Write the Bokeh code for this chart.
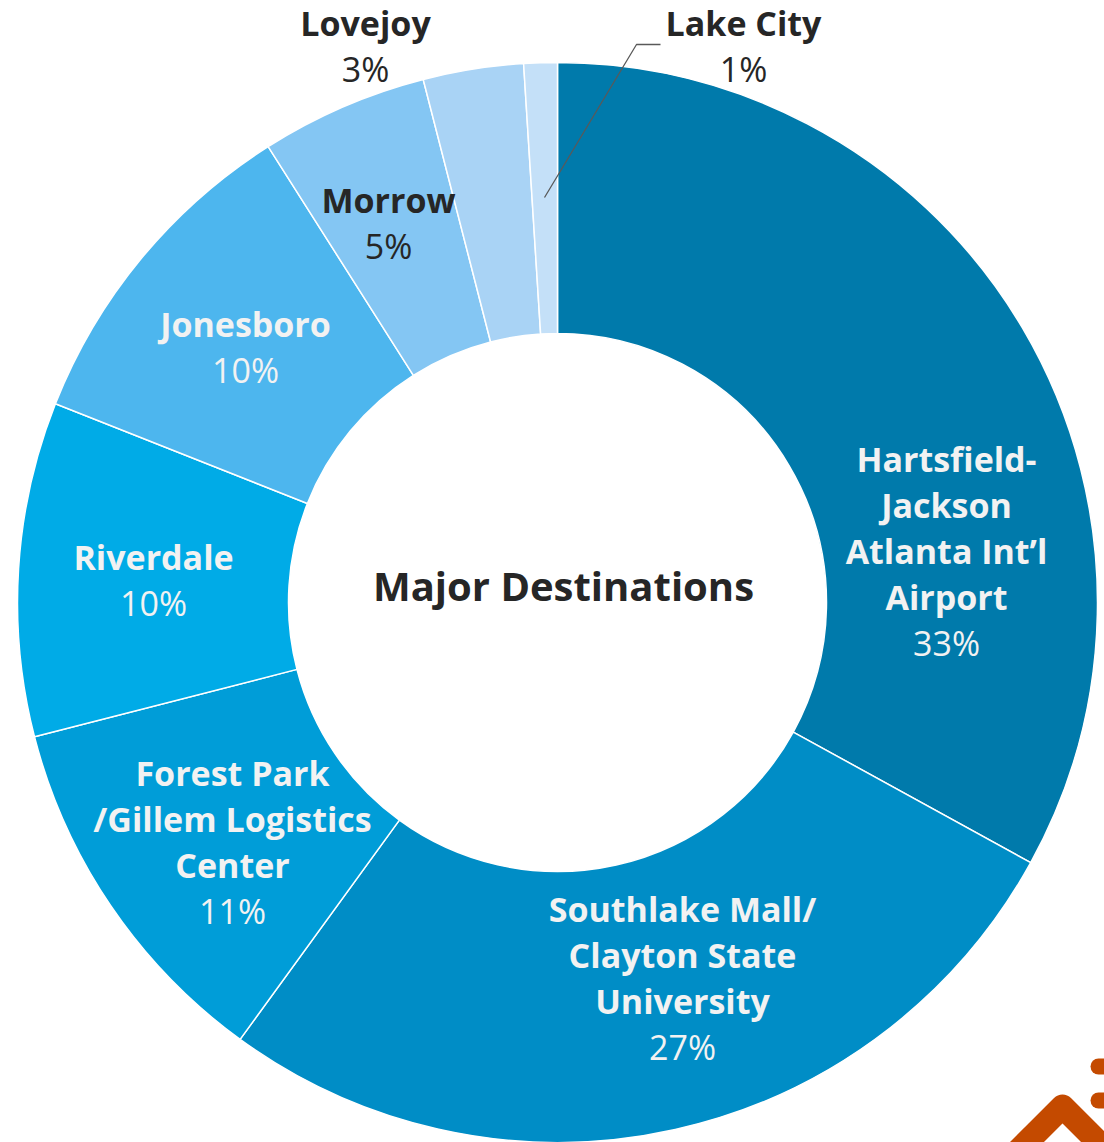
import math
from bokeh.plotting import figure
from bokeh.models import ColumnDataSource, Range1d
from bokeh.core.properties import value
from bokeh.embed import file_html
from bokeh.resources import INLINE

# ---- data ----
destinations = [
    "Hartsfield-\nJackson\nAtlanta Int’l\nAirport",
    "Southlake Mall/\nClayton State\nUniversity",
    "Forest Park\n/Gillem Logistics\nCenter",
    "Riverdale",
    "Jonesboro",
    "Morrow",
    "Lovejoy",
    "Lake City",
]
shares = [33, 27, 11, 10, 10, 5, 3, 1]
slice_colors = ["#007AAB", "#008DC6", "#009DD8", "#00ABE7",
                "#4DB6EE", "#84C6F3", "#A9D3F5", "#C4E0F8"]
label_colors = ["#F2F2F2", "#F2F2F2", "#F2F2F2", "#F2F2F2",
                "#F2F2F2", "#262626", "#262626", "#262626"]
center_title = "Major Destinations"

# ---- layout (screen pixel coordinates; y measured down) ----
W, H = 1104, 1142
OFF = 0
CX, CY = 557, 602
R_OUT, R_IN = 540, 269
LINE_GAP = 46
label_anchor = [(946, 458), (682, 908), (232, 772), (153, 556),
                (245, 323), (388, 199), (365, 22), (743, 22)]
FONT = "Open Sans"
FS = "34px"

p = figure(width=W, height=H, output_backend="svg", toolbar_location=None,
           x_range=Range1d(OFF, OFF + W), y_range=Range1d(-(OFF + H), -OFF),
           min_border=0, outline_line_color=None)
p.axis.visible = False
p.grid.visible = False
p.background_fill_color = "#FFFFFF"
p.border_fill_color = "#FFFFFF"

total = float(sum(shares))
starts, ends = [], []
cum = 0.0
for v in shares:
    a0 = math.pi / 2 - 2 * math.pi * (cum + v) / total
    a1 = math.pi / 2 - 2 * math.pi * cum / total
    starts.append(a0)
    ends.append(a1)
    cum += v

src = ColumnDataSource(dict(start=starts, end=ends, color=slice_colors,
                            x=[CX] * len(shares), y=[-CY] * len(shares)))
p.annular_wedge(x="x", y="y", inner_radius=R_IN, outer_radius=R_OUT,
                start_angle="start", end_angle="end", direction="anticlock",
                fill_color="color", line_color="white", line_width=1.5,
                source=src)

# labels
nx, ny, nt, nc = [], [], [], []
px_, py_, pt_, pc_ = [], [], [], []
for name, v, col, (ax, ay) in zip(destinations, shares, label_colors, label_anchor):
    lines = name.split("\n")
    for i, ln in enumerate(lines):
        nx.append(ax); ny.append(-(ay + i * LINE_GAP)); nt.append(ln); nc.append(col)
    px_.append(ax); py_.append(-(ay + len(lines) * LINE_GAP)); pt_.append(f"{v}%"); pc_.append(col)

p.text(x="x", y="y", text="t", text_color="c",
       source=ColumnDataSource(dict(x=nx, y=ny, t=nt, c=nc)),
       text_font=value(FONT), text_font_style="bold", text_font_size=FS,
       text_align="center", text_baseline="middle")
p.text(x="x", y="y", text="t", text_color="c",
       source=ColumnDataSource(dict(x=px_, y=py_, t=pt_, c=pc_)),
       text_font=value(FONT), text_font_style="normal", text_font_size=FS,
       text_align="center", text_baseline="middle")

# center title
p.text(x=[563], y=[-585], text=[center_title], text_color="#262626",
       text_font=value(FONT), text_font_style="bold", text_font_size="40px",
       text_align="center", text_baseline="middle")

# leader line for Lake City
p.line(x=[660, 636, 544], y=[-44, -44, -197], line_color="#595959", line_width=1.3)

# decorative logo fragment (bottom right)
p.line(x=[1018, 1062, 1106], y=[-1150, -1106, -1150], line_color="#C44A00",
       line_width=24, line_join="round", line_cap="round")
p.line(x=[1098, 1110], y=[-1066, -1066], line_color="#C44A00", line_width=16, line_cap="round")
p.line(x=[1098, 1110], y=[-1100, -1100], line_color="#C44A00", line_width=16, line_cap="round")

open("out.html", "w").write(file_html(p, INLINE))
